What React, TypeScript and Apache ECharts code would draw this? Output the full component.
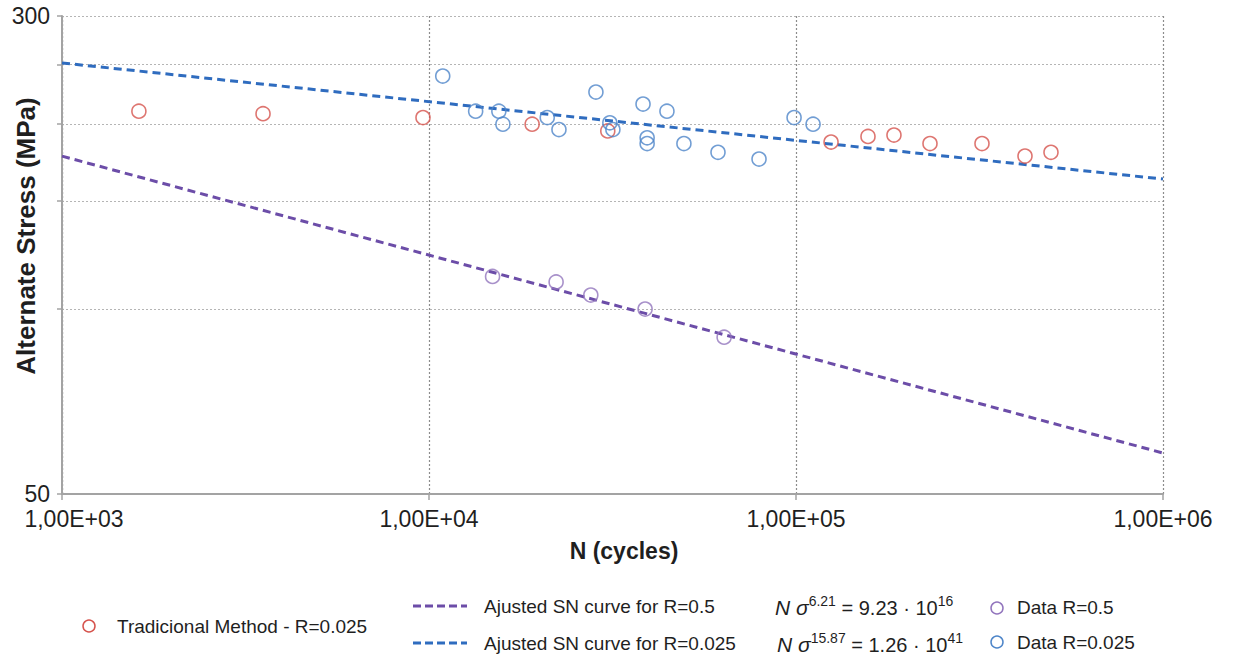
import React, { useEffect, useRef } from 'react';
import * as echarts from 'echarts';

// Traditional method, R = 0.025
const tradN = [1620, 3530, 9630, 19100, 30700, 124600, 157100, 184900, 231800, 321200, 420700, 495200];
const tradS = [210, 208, 205, 200, 195, 187, 191, 192, 186, 186, 177.5, 180];

// Data R = 0.025
const r025N = [10900, 13400, 15500, 15900, 21000, 22600, 28500, 31100, 31700, 38300, 39300, 39300, 44500, 49500, 61300, 79300, 98800, 111300];
const r025S = [239.5, 210, 210, 200, 205, 196, 225.6, 201, 196, 215.7, 190, 186, 210, 186, 180, 175.5, 205, 200];

// Data R = 0.5
const r05N = [14900, 22200, 27600, 38800, 63700];
const r05S = [113, 110.7, 105.4, 100, 90];

// Adjusted SN curves (end points)
const fit05N = [1000, 1000000];
const fit05S = [177.4, 58.3];
const fit025N = [1000, 1000000];
const fit025S = [251.6, 162.8];

const yTickValues = [50, 100, 150, 200, 250, 300];
const yLabelValues = [50, 300];

const FONT = "'Liberation Sans', Arial, Helvetica, sans-serif";
const RED = '#d6544e';
const BLUE = '#4f86c9';
const PURPLE = '#9275bd';
const BLUE_LINE = '#2f6cbf';
const PURPLE_LINE = '#6c4da8';
const TEXT = '#1f1f1f';

const zip = (a: number[], b: number[]) => a.map((v, i) => [v, b[i]]);

export default function App() {
  const ref = useRef<HTMLDivElement>(null);
  useEffect(() => {
    const chart = echarts.init(ref.current!, null, { renderer: 'svg' });
    const circleStyle = (c: string) => ({ color: 'rgba(255,255,255,0)', borderColor: c, borderWidth: 1.6 });
    const legendText = (x: number, y: number, t: string) => ({
      type: 'text', x, y,
      style: { text: t, fill: TEXT, fontSize: 19, fontFamily: FONT, verticalAlign: 'middle', align: 'left' },
    });
    const formula = (x: number, y: number, exp: string, rhs: string, pow: string) => ({
      type: 'text', x, y,
      style: {
        text: `{it|N σ}{sup|${exp}}{n| = ${rhs} · 10}{sup|${pow}}`,
        verticalAlign: 'middle', align: 'left',
        rich: {
          it: { fontStyle: 'italic', fontSize: 21, fontFamily: FONT, fill: TEXT, lineHeight: 24, verticalAlign: 'bottom' },
          n: { fontSize: 20, fontFamily: FONT, fill: TEXT, lineHeight: 24, verticalAlign: 'bottom' },
          sup: { fontSize: 14, fontFamily: FONT, fill: TEXT, lineHeight: 14, verticalAlign: 'top' },
        },
      },
    });
    const option: any = {
      animation: false,
      backgroundColor: '#ffffff',
      grid: { left: 62, top: 16, width: 1101, height: 478, containLabel: false },
      xAxis: {
        type: 'log', logBase: 10, min: 1000, max: 1000000,
        axisLine: { show: true, lineStyle: { color: '#a3a3a3', width: 2 } },
        axisTick: { show: true, length: 6, lineStyle: { color: '#a3a3a3', width: 1.5 } },
        splitLine: { show: true, lineStyle: { color: '#8c8c8c', width: 1.2, type: [2, 2] } },
        axisLabel: {
          fontSize: 23, color: TEXT, fontFamily: FONT, margin: 13,
          formatter: (v: number) => {
            const e = Math.round(Math.log10(v));
            const s = '1,00E+' + String(e).padStart(2, '0');
            return e === 3 ? '{first|' + s + '}' : s;
          },
          rich: { first: { fontSize: 23, color: TEXT, fontFamily: FONT, padding: [0, 0, 0, 24] } },
        },
      },
      yAxis: {
        type: 'log', logBase: 10, min: 50, max: 300,
        axisLine: { show: true, lineStyle: { color: '#a3a3a3', width: 2 } },
        axisTick: { show: true, length: 5, customValues: yTickValues, lineStyle: { color: '#a3a3a3', width: 1.5 } },
        splitLine: { show: true, lineStyle: { color: '#b5b5b5', width: 1.2, type: [2, 2] } },
        axisLabel: {
          customValues: yLabelValues, fontSize: 23, color: TEXT, fontFamily: FONT, margin: 12,
          formatter: (v: number) => String(Math.round(v)),
        },
      },
      series: [
        {
          name: 'Ajusted SN curve for R=0.5', type: 'line', data: zip(fit05N, fit05S), showSymbol: false,
          lineStyle: { color: PURPLE_LINE, width: 3, type: [8, 5] }, z: 2,
        },
        {
          name: 'Ajusted SN curve for R=0.025', type: 'line', data: zip(fit025N, fit025S), showSymbol: false,
          lineStyle: { color: BLUE_LINE, width: 3, type: [8, 5] }, z: 2,
        },
        {
          name: 'Tradicional Method - R=0.025', type: 'scatter', data: zip(tradN, tradS), symbol: 'circle', symbolSize: 14,
          itemStyle: circleStyle(RED), z: 3,
        },
        {
          name: 'Data R=0.5', type: 'scatter', data: zip(r05N, r05S), symbol: 'circle', symbolSize: 14,
          itemStyle: circleStyle(PURPLE), z: 3,
        },
        {
          name: 'Data R=0.025', type: 'scatter', data: zip(r025N, r025S), symbol: 'circle', symbolSize: 14,
          itemStyle: circleStyle(BLUE), z: 3,
        },
      ],
      graphic: [
        {
          type: 'text', x: 624, y: 551,
          style: { text: 'N (cycles)', fill: TEXT, fontSize: 23, fontWeight: 'bold', fontFamily: FONT, align: 'center', verticalAlign: 'middle' },
        },
        {
          type: 'text', x: 26, y: 236, rotation: Math.PI / 2,
          style: { text: 'Alternate Stress (MPa)', fill: TEXT, fontSize: 26, fontWeight: 'bold', fontFamily: FONT, align: 'center', verticalAlign: 'middle' },
        },
        { type: 'circle', shape: { cx: 89, cy: 626, r: 6 }, style: { fill: 'none', stroke: RED, lineWidth: 1.5 } },
        legendText(117, 626, 'Tradicional Method - R=0.025'),
        { type: 'line', shape: { x1: 413, y1: 606, x2: 467, y2: 606 }, style: { stroke: PURPLE_LINE, lineWidth: 3, lineDash: [8, 4] } },
        legendText(484, 606, 'Ajusted SN curve for R=0.5'),
        { type: 'line', shape: { x1: 413, y1: 643, x2: 467, y2: 643 }, style: { stroke: BLUE_LINE, lineWidth: 3, lineDash: [8, 4] } },
        legendText(484, 643, 'Ajusted SN curve for R=0.025'),
        formula(775, 606, '6.21', '9.23', '16'),
        formula(777, 643, '15.87', '1.26', '41'),
        { type: 'circle', shape: { cx: 997, cy: 608, r: 6 }, style: { fill: 'none', stroke: PURPLE, lineWidth: 1.5 } },
        legendText(1017, 607, 'Data R=0.5'),
        { type: 'circle', shape: { cx: 997, cy: 642, r: 6 }, style: { fill: 'none', stroke: BLUE, lineWidth: 1.5 } },
        legendText(1017, 642, 'Data R=0.025'),
      ],
    };
    chart.setOption(option);
    return () => chart.dispose();
  }, []);
  return <div ref={ref} style={{ position: 'fixed', left: 0, top: 0, width: 1236, height: 656 }} />;
}
